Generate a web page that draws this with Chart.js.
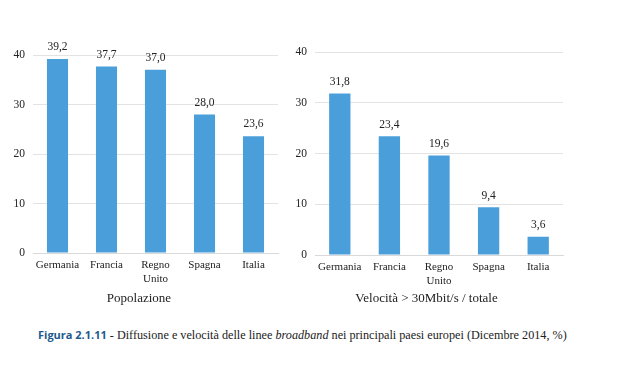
<!DOCTYPE html>
<html>
<head>
<meta charset="utf-8">
<script src="https://cdn.jsdelivr.net/npm/chart.js@4.4.1/dist/chart.umd.min.js"></script>
<style>
  body { margin: 0; background: #fff; width: 622px; height: 386px; position: relative; overflow: hidden; }
  #c1 { position: absolute; left: 0; top: 0; }
  #c2 { position: absolute; left: 290px; top: 0; }
  #caption { position: absolute; left: 38px; top: 327px; font-family: "Liberation Serif", serif; font-size: 12.2px; color: #222; white-space: nowrap; }
  #caption b { font-family: "Open Sans", sans-serif; color: #1e5a8c; font-weight: 700; font-size: 11px; }
</style>
</head>
<body>
<canvas id="c1" width="290" height="310"></canvas>
<canvas id="c2" width="290" height="310"></canvas>
<div id="caption"><b>Figura 2.1.11</b> - Diffusione e velocità delle linee <i>broadband</i> nei principali paesi europei (Dicembre 2014, %)</div>
<script>
// Categories and values
var paesi = [["Germania"], ["Francia"], ["Regno", "Unito"], ["Spagna"], ["Italia"]];
var popolazione = [39.2, 37.7, 37.0, 28.0, 23.6];
var velocita = [31.8, 23.4, 19.6, 9.4, 3.6];
var yTicks = [0, 10, 20, 30, 40];

var barColor = "#4a9fdb";
var serif = "'Liberation Serif', 'Times New Roman', serif";

// Draw values above bars
var valueLabels = {
    id: 'valueLabels',
    afterDatasetsDraw: function(chart) {
        var ctx = chart.ctx;
        var meta = chart.getDatasetMeta(0);
        ctx.save();
        ctx.font = "11.5px " + serif;
        ctx.fillStyle = "#222";
        ctx.textAlign = "center";
        ctx.textBaseline = "bottom";
        meta.data.forEach(function(bar, i) {
            var v = chart.data.datasets[0].data[i];
            ctx.fillText(v.toFixed(1).replace(".", ","), bar.x, bar.y - 6);
        });
        ctx.restore();
    }
};

function makeChart(id, values, title, pad, yWidth, xHeight) {
    return new Chart(document.getElementById(id), {
        type: 'bar',
        data: {
            labels: paesi,
            datasets: [{ data: values, backgroundColor: barColor, categoryPercentage: 1, barPercentage: 0.43 }]
        },
        options: {
            responsive: false,
            animation: false,
            layout: { padding: pad },
            plugins: {
                legend: { display: false },
                tooltip: { enabled: false },
                title: {
                    display: true, text: title, position: 'bottom',
                    color: "#222", font: { family: serif, size: 13, weight: 'normal' },
                    padding: { top: 0, bottom: 4 }
                }
            },
            scales: {
                x: {
                    grid: { display: false, drawTicks: false },
                    border: { color: "#d9d9d9" },
                    ticks: { color: "#222", font: { family: serif, size: 11 }, padding: 6, maxRotation: 0, autoSkip: false },
                    afterFit: function(s) { s.height = xHeight; }
                },
                y: {
                    min: 0, max: 40,
                    afterBuildTicks: function(s) { s.ticks = yTicks.map(function(v) { return { value: v }; }); },
                    grid: { color: "#e3e3e3", drawTicks: false },
                    border: { display: false },
                    ticks: { color: "#222", font: { family: serif, size: 11.5 }, padding: 8 },
                    afterFit: function(s) { s.width = yWidth; }
                }
            }
        },
        plugins: [valueLabels]
    });
}

makeChart('c1', popolazione, "Popolazione", { top: 55, right: 12, left: 0, bottom: 0 }, 33, 37.4);
makeChart('c2', velocita, "Velocità > 30Mbit/s / totale", { top: 52, right: 17, left: 0, bottom: 0 }, 25, 35.4);
</script>
</body>
</html>
